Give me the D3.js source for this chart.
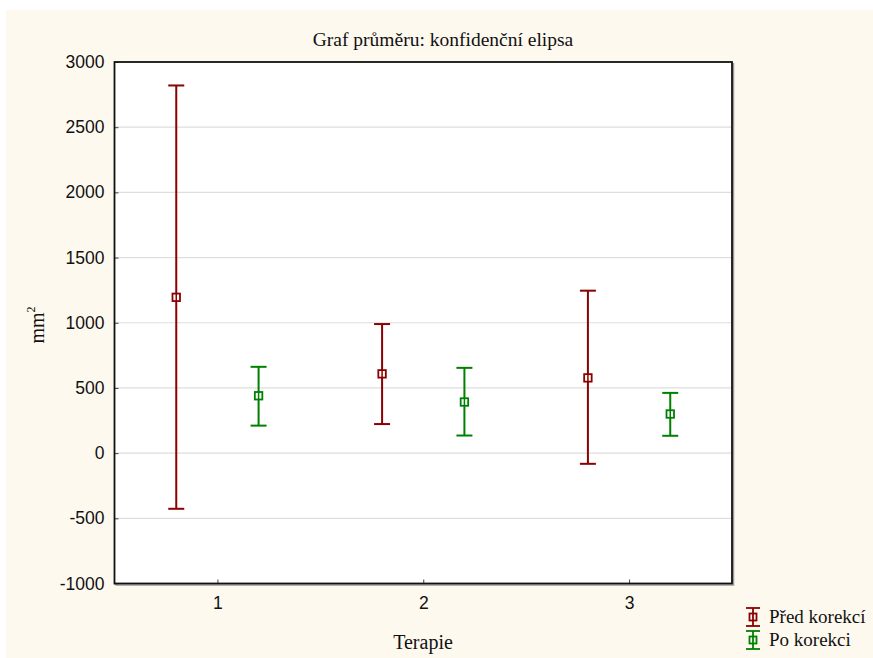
<!DOCTYPE html>
<html>
<head>
<meta charset="utf-8">
<script src="https://cdn.jsdelivr.net/npm/d3@7"></script>
<style>
  html, body { margin: 0; padding: 0; background: #ffffff; }
  svg { display: block; }
</style>
</head>
<body>
<svg id="chart" width="873" height="658"></svg>
<script>
// Therapy groups and the two measurement series (mean with confidence limits)
const categories = [1, 2, 3];
const categoryLabels = ["1", "2", "3"];
const seriesNames = ["Před korekcí", "Po korekci"];
const predMean  = [1195, 608, 577];
const predLower = [-427, 223, -82];
const predUpper = [2820, 990, 1246];
const poMean    = [440, 392, 300];
const poLower   = [211, 135, 133];
const poUpper   = [662, 654, 462];
const yTicks = [-1000, -500, 0, 500, 1000, 1500, 2000, 2500, 3000];

const colors = ["#8b0000", "#008000"];
const offsets = [-0.2, 0.2];

const svg = d3.select("#chart");
const W = 873, H = 658;
const serif = "Liberation Serif, Times New Roman, serif";
const sans = "Liberation Sans, Arial, sans-serif";

// page background
svg.append("rect").attr("x", 0).attr("y", 0).attr("width", W).attr("height", H).attr("fill", "#ffffff");
svg.append("rect").attr("x", 6).attr("y", 10).attr("width", W - 6).attr("height", H - 10).attr("fill", "#fef9ef");

const plot = { left: 114.5, right: 732, top: 62, bottom: 583.5 };

const x = d3.scaleLinear().domain([0.5, 3.5]).range([plot.left, plot.right]);
const y = d3.scaleLinear().domain([-1000, 3000]).range([plot.bottom, plot.top]);

// plot area
svg.append("rect")
  .attr("x", plot.left).attr("y", plot.top)
  .attr("width", plot.right - plot.left).attr("height", plot.bottom - plot.top)
  .attr("fill", "#ffffff");

// horizontal grid lines
svg.append("g")
  .selectAll("line")
  .data(yTicks.filter(v => v > -1000 && v < 3000))
  .join("line")
  .attr("x1", plot.left).attr("x2", plot.right)
  .attr("y1", d => y(d)).attr("y2", d => y(d))
  .attr("stroke", "#dedede").attr("stroke-width", 1.2);

// y axis
const yAxis = d3.axisLeft(y).tickValues(yTicks).tickSize(-4).tickPadding(10).tickFormat(d => String(d));
const gy = svg.append("g").attr("transform", `translate(${plot.left},0)`).call(yAxis);
gy.select(".domain").remove();
gy.selectAll(".tick line").attr("stroke", "#444").attr("stroke-width", 1);
gy.selectAll(".tick text")
  .attr("font-family", sans)
  .attr("font-size", 17.5).attr("fill", "#111");

// x axis
const xAxis = d3.axisBottom(x).tickValues(categories).tickSize(-4).tickPadding(13)
  .tickFormat((d, i) => categoryLabels[i]);
const gx = svg.append("g").attr("transform", `translate(0,${plot.bottom})`).call(xAxis);
gx.select(".domain").remove();
gx.selectAll(".tick line").attr("stroke", "#444").attr("stroke-width", 1);
gx.selectAll(".tick text")
  .attr("font-family", sans)
  .attr("font-size", 17.5).attr("fill", "#111");

// plot frame with soft shadow on the right and bottom
svg.append("path")
  .attr("d", `M${plot.left + 1},${plot.bottom + 1.5}H${plot.right + 1.5}V${plot.top + 1}`)
  .attr("fill", "none").attr("stroke", "#999").attr("stroke-width", 1.5);
svg.append("rect")
  .attr("x", plot.left).attr("y", plot.top)
  .attr("width", plot.right - plot.left).attr("height", plot.bottom - plot.top)
  .attr("fill", "none").attr("stroke", "#111").attr("stroke-width", 1.8);

// error bars and mean markers
const series = [
  { mean: predMean, lo: predLower, hi: predUpper },
  { mean: poMean, lo: poLower, hi: poUpper }
];
const capHalf = 8, box = 7.5;
series.forEach((s, si) => {
  const g = svg.append("g").attr("stroke", colors[si]).attr("fill", "none").attr("stroke-width", 2);
  categories.forEach((c, i) => {
    const cx = x(c + offsets[si]);
    g.append("line").attr("x1", cx).attr("x2", cx).attr("y1", y(s.lo[i])).attr("y2", y(s.hi[i]));
    g.append("line").attr("x1", cx - capHalf).attr("x2", cx + capHalf).attr("y1", y(s.hi[i])).attr("y2", y(s.hi[i]));
    g.append("line").attr("x1", cx - capHalf).attr("x2", cx + capHalf).attr("y1", y(s.lo[i])).attr("y2", y(s.lo[i]));
    g.append("rect").attr("x", cx - box / 2).attr("y", y(s.mean[i]) - box / 2)
      .attr("width", box).attr("height", box).attr("fill", "#ffffff").attr("stroke-width", 1.8);
    g.append("line").attr("x1", cx).attr("x2", cx)
      .attr("y1", y(s.mean[i]) - box / 2).attr("y2", y(s.mean[i]) + box / 2).attr("stroke-width", 1.5);
  });
});

// title and axis titles
svg.append("text")
  .attr("x", 443).attr("y", 46)
  .attr("text-anchor", "middle")
  .attr("font-family", serif)
  .attr("font-size", 19.5).attr("fill", "#111")
  .text("Graf průměru: konfidenční elipsa");

svg.append("text")
  .attr("x", 423).attr("y", 649)
  .attr("text-anchor", "middle")
  .attr("font-family", serif)
  .attr("font-size", 20).attr("fill", "#111")
  .text("Terapie");

const yl = svg.append("text")
  .attr("transform", "translate(44,325) rotate(-90)")
  .attr("text-anchor", "middle")
  .attr("font-family", serif)
  .attr("font-size", 20).attr("fill", "#111");
yl.append("tspan").text("mm");
yl.append("tspan").attr("font-size", 12).attr("dy", -9).text("2");

// legend
const legend = svg.append("g").attr("transform", "translate(753,617)");
seriesNames.forEach((name, i) => {
  const g = legend.append("g").attr("transform", `translate(0,${i * 23})`);
  const gs = g.append("g").attr("stroke", colors[i]).attr("fill", "none").attr("stroke-width", 1.8);
  gs.append("line").attr("x1", 0).attr("x2", 0).attr("y1", -9).attr("y2", 9);
  gs.append("line").attr("x1", -7).attr("x2", 7).attr("y1", -9).attr("y2", -9);
  gs.append("line").attr("x1", -7).attr("x2", 7).attr("y1", 9).attr("y2", 9);
  gs.append("rect").attr("x", -3.5).attr("y", -3.5).attr("width", 7).attr("height", 7).attr("fill", "#fef9ef");
  gs.append("line").attr("x1", 0).attr("x2", 0).attr("y1", -3.5).attr("y2", 3.5);
  g.append("text")
    .attr("x", 16).attr("y", 6)
    .attr("font-family", serif)
    .attr("font-size", 19).attr("fill", "#111")
    .text(name);
});
</script>
</body>
</html>
